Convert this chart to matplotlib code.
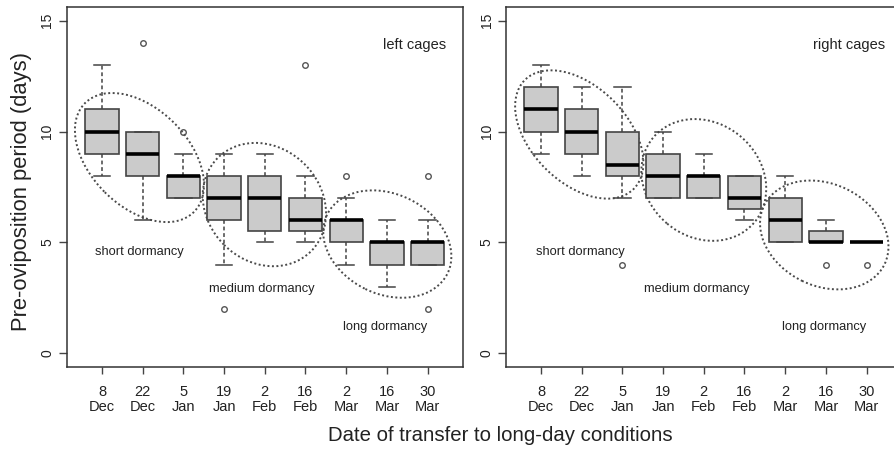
import matplotlib
matplotlib.use("Agg")
import matplotlib.pyplot as plt
from matplotlib.patches import Ellipse
from matplotlib.transforms import ScaledTranslation

plt.rcParams['font.family'] = ['Liberation Sans', 'DejaVu Sans']

dates = ["8\nDec", "22\nDec", "5\nJan", "19\nJan", "2\nFeb",
         "16\nFeb", "2\nMar", "16\nMar", "30\nMar"]

# left cages (whisker low, q1, median, q3, whisker high, outliers)
left_lo = [8, 6, 7, 4, 5, 5, 4, 3, 4]
left_q1 = [9, 8, 7, 6, 5.5, 5.5, 5, 4, 4]
left_med = [10, 9, 8, 7, 7, 6, 6, 5, 5]
left_q3 = [11, 10, 8, 8, 8, 7, 6, 5, 5]
left_hi = [13, 10, 9, 9, 9, 8, 7, 6, 6]
left_out = [[], [14], [10], [2], [], [13], [8], [], [8, 2]]

# right cages
right_lo = [9, 8, 7, 7, 7, 6, 5, 5, 5]
right_q1 = [10, 9, 8, 7, 7, 6.5, 5, 5, 5]
right_med = [11, 10, 8.5, 8, 8, 7, 6, 5, 5]
right_q3 = [12, 11, 10, 9, 8, 8, 7, 5.5, 5]
right_hi = [13, 12, 12, 10, 9, 8, 8, 6, 5]
right_out = [[], [], [4], [], [], [], [], [4], [4]]

# group labels: text, x position, y value
left_groups = [("short dormancy", 1.93, 4.55), ("medium dormancy", 4.93, 2.9),
               ("long dormancy", 7.95, 1.2)]
right_groups = [("short dormancy", 1.96, 4.55), ("medium dormancy", 4.84, 2.9),
                ("long dormancy", 7.95, 1.2)]

# ellipses: centre x, centre y (data), semi axes in pixels, angle on screen
left_ell = [(1.92, 8.83, 77, 49, -45), (4.99, 6.71, 66, 57, -45), (8.01, 4.93, 67, 50, -26)]
right_ell = [(1.94, 9.87, 77, 48, -45), (5.0, 7.82, 66, 57, -40), (7.96, 5.34, 67, 51, -26)]

fig = plt.figure(figsize=(8.94, 4.51), dpi=100)
ax1 = fig.add_axes([67 / 894, 1 - 366.7 / 451, 395.6 / 894, 359.3 / 451])
ax2 = fig.add_axes([506 / 894, 1 - 366.7 / 451, 395.6 / 894, 359.3 / 451])

dark = '#444444'


def draw_panel(ax, lo, q1, med, q3, hi, out, groups, ells, title):
    stats = []
    for i in range(len(med)):
        stats.append(dict(whislo=lo[i], q1=q1[i], med=med[i], q3=q3[i],
                          whishi=hi[i], fliers=out[i]))
    ax.bxp(stats, positions=range(1, len(med) + 1), widths=0.82,
           patch_artist=True, capwidths=0.4,
           boxprops=dict(facecolor='#cbcbcb', edgecolor=dark, linewidth=1.2),
           whiskerprops=dict(color=dark, linestyle=(0, (2.5, 1.8)), linewidth=1.1),
           capprops=dict(color=dark, linewidth=1.1),
           medianprops=dict(color='black', linewidth=2.6, solid_capstyle='butt'),
           flierprops=dict(marker='o', markerfacecolor='none',
                           markeredgecolor='#555555', markersize=4, markeredgewidth=1))
    for cx, cy, a, b, ang in ells:
        tr = fig.dpi_scale_trans + ScaledTranslation(cx, cy, ax.transData)
        e = Ellipse((0, 0), 2 * a / 100, 2 * b / 100, angle=ang, transform=tr,
                    fill=False, edgecolor='#4a4a4a', linewidth=1.4,
                    linestyle=(0, (1, 1.3)))
        ax.add_patch(e)
    for txt, x, y in groups:
        ax.text(x, y, txt, ha='center', va='center', fontsize=9.3, color='#222222')
    ax.text(title[1], 13.9, title[0], ha='center', va='center', fontsize=10.5,
            color='#222222')

    ax.set_xlim(0.14, 9.86)
    ax.set_ylim(-0.6, 15.6)
    ax.set_xticks(range(1, 10))
    ax.set_xticklabels(dates, fontsize=10.5, linespacing=1.15)
    ax.set_yticks([0, 5, 10, 15])
    ax.set_yticklabels(['0', '5', '10', '15'], fontsize=10, rotation=90, va='center')
    ax.tick_params(axis='x', length=5, width=1, color=dark, pad=8, labelcolor='#222222')
    ax.tick_params(axis='y', length=6, width=1, color=dark, pad=3, labelcolor='#222222')
    for s in ax.spines.values():
        s.set_color('#333333')
        s.set_linewidth(1.1)


draw_panel(ax1, left_lo, left_q1, left_med, left_q3, left_hi, left_out,
           left_groups, left_ell, ("left cages", 8.69))
draw_panel(ax2, right_lo, right_q1, right_med, right_q3, right_hi, right_out,
           right_groups, right_ell, ("right cages", 8.56))

fig.text(0.560, 0.035, "Date of transfer to long-day conditions", ha='center',
         va='center', fontsize=14.7, color='#222222')
fig.text(0.0246, 0.575, "Pre-oviposition period (days)", ha='center', va='center',
         rotation=90, fontsize=15.8, color='#222222')

fig.savefig("out.png", dpi=100)
